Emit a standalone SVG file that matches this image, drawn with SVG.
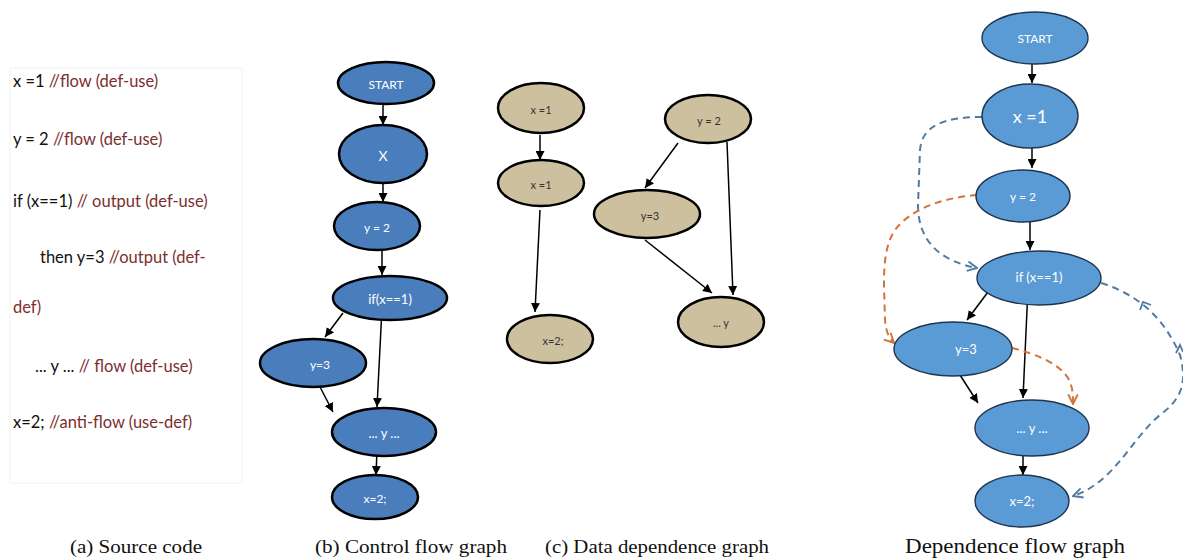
<svg xmlns="http://www.w3.org/2000/svg" width="1183" height="560" viewBox="0 0 1183 560">
<defs>
<style>
.code{font-family:Lato,"Liberation Sans",sans-serif;font-size:16.5px;fill:#111}
.cm{fill:#7d2e2e}
.cfg{fill:#4a7dbc;stroke:#000;stroke-width:2.5}
.ddg{fill:#ccc09f;stroke:#000;stroke-width:2.5}
.dfg{fill:#5b9bd5;stroke:#1e3550;stroke-width:1.4}
.wt{font-family:Lato,"Liberation Sans",sans-serif;fill:#fff;text-anchor:middle;dominant-baseline:central}
.dt{font-family:Lato,"Liberation Sans",sans-serif;fill:#333;font-size:11px;text-anchor:middle;dominant-baseline:central}
.e{fill:none;stroke:#000;stroke-width:1.5;marker-end:url(#ah)}
.bd{fill:none;stroke:#527ba3;stroke-width:2;stroke-dasharray:7 5}
.od{fill:none;stroke:#d2743a;stroke-width:2;stroke-dasharray:7 5}
.cap{font-family:"Liberation Serif",serif;fill:#111}
</style>
<marker id="ah" viewBox="0 0 10 10" refX="10" refY="5" markerWidth="9" markerHeight="9" markerUnits="userSpaceOnUse" orient="auto"><path d="M0,0 L10,5 L0,10 z" fill="#000"/></marker>
<marker id="cb" viewBox="0 0 10 10" refX="9" refY="5" markerWidth="12" markerHeight="12" markerUnits="userSpaceOnUse" orient="auto"><path d="M1,1 L9,5 L1,9" fill="none" stroke="#527ba3" stroke-width="1.6"/></marker>
<marker id="co" viewBox="0 0 10 10" refX="9" refY="5" markerWidth="12" markerHeight="12" markerUnits="userSpaceOnUse" orient="auto"><path d="M1,1 L9,5 L1,9" fill="none" stroke="#d2743a" stroke-width="1.6"/></marker>
</defs>
<rect width="1183" height="560" fill="#fff"/>

<g id="source-code">
<rect x="10" y="68" width="232" height="415" fill="#fff" stroke="#f2f2f2" stroke-width="1"/>
<text class="code" x="13" y="87">x =1 <tspan class="cm">//flow (def-use)</tspan></text>
<text class="code" x="13" y="145">y = 2 <tspan class="cm">//flow (def-use)</tspan></text>
<text class="code" x="13" y="207">if (x==1) <tspan class="cm">// output (def-use)</tspan></text>
<text class="code" x="40" y="263">then y=3 <tspan class="cm">//output (def-</tspan></text>
<text class="code cm" x="13" y="313">def)</text>
<text class="code" x="35" y="372">... y  ... <tspan class="cm">// flow (def-use)</tspan></text>
<text class="code" x="13" y="428">x=2; <tspan class="cm">//anti-flow (use-def)</tspan></text>
</g>

<g id="connectors">
<line class="e" x1="383" y1="100" x2="383" y2="125"/>
<line class="e" x1="383" y1="175" x2="383" y2="202"/>
<line class="e" x1="382" y1="250" x2="382" y2="275"/>
<line class="e" x1="343" y1="313" x2="325" y2="337"/>
<line class="e" x1="382" y1="308" x2="377" y2="407"/>
<line class="e" x1="320" y1="387" x2="333" y2="412"/>
<line class="e" x1="377" y1="450" x2="376" y2="475"/>
<line class="e" x1="540" y1="135" x2="540" y2="160"/>
<line class="e" x1="540" y1="210" x2="535" y2="312"/>
<line class="e" x1="678" y1="143" x2="645" y2="188"/>
<line class="e" x1="727" y1="142" x2="733" y2="295"/>
<line class="e" x1="645" y1="240" x2="712" y2="293"/>
<line class="e" x1="1032" y1="55" x2="1032" y2="83"/>
<line class="e" x1="1032" y1="138" x2="1032" y2="168"/>
<line class="e" x1="1030" y1="222" x2="1030" y2="250"/>
<line class="e" x1="988" y1="292" x2="967" y2="320"/>
<line class="e" x1="1028" y1="288" x2="1023" y2="398"/>
<line class="e" x1="960" y1="375" x2="978" y2="403"/>
<line class="e" x1="1023" y1="447" x2="1023" y2="475"/>
<path class="bd" d="M982,117 C945,117 922,125 920,150 L918,205 C918,245 945,262 977,268" marker-end="url(#cb)"/>
<path class="bd" d="M1101,283 C1140,295 1165,320 1180,355 C1188,385 1180,400 1160,415 C1130,440 1115,482 1073,496" marker-end="url(#cb)"/>
<polyline points="1140,310 1143,302 1151,305" fill="none" stroke="#527ba3" stroke-width="1.8"/>
<polyline points="1176,353 1180,345 1183,352" fill="none" stroke="#527ba3" stroke-width="1.8"/>
<path class="od" d="M977,195 C940,198 910,210 895,230 C885,245 884,265 884,285 L885,320 C886,332 889,338 894,343" marker-end="url(#co)"/>
<path class="od" d="M1012,348 C1040,355 1060,365 1068,378 C1073,387 1073,395 1073,404" marker-end="url(#co)"/>
</g>

<g id="cfg-start"><ellipse class="cfg" cx="386" cy="83" rx="48" ry="21"/><text class="wt" x="386" y="84" font-size="12">START</text></g>
<g id="cfg-x"><ellipse class="cfg" cx="383" cy="154" rx="44" ry="29"/><text class="wt" x="383" y="155" font-size="14">X</text></g>
<g id="cfg-y2"><ellipse class="cfg" cx="377" cy="226" rx="43" ry="24"/><text class="wt" x="377" y="227" font-size="12">y = 2</text></g>
<g id="cfg-if"><ellipse class="cfg" cx="390" cy="298" rx="57" ry="22"/><text class="wt" x="390" y="299" font-size="13">if(x==1)</text></g>
<g id="cfg-y3"><ellipse class="cfg" cx="313" cy="363" rx="53" ry="24"/><text class="wt" x="320" y="364" font-size="12">y=3</text></g>
<g id="cfg-usey"><ellipse class="cfg" cx="384" cy="432" rx="52" ry="24"/><text class="wt" x="384" y="433" font-size="13">... y  ...</text></g>
<g id="cfg-x2"><ellipse class="cfg" cx="375" cy="497" rx="43" ry="22"/><text class="wt" x="375" y="498" font-size="12">x=2;</text></g>

<g id="ddg-x1a"><ellipse class="ddg" cx="541" cy="108" rx="43" ry="25"/><text class="dt" x="541" y="109">x =1</text></g>
<g id="ddg-x1b"><ellipse class="ddg" cx="541" cy="183" rx="43" ry="23"/><text class="dt" x="541" y="184">x =1</text></g>
<g id="ddg-x2"><ellipse class="ddg" cx="550" cy="339" rx="43" ry="24"/><text class="dt" x="553" y="340">x=2;</text></g>
<g id="ddg-y2"><ellipse class="ddg" cx="708" cy="119" rx="43" ry="24"/><text class="dt" x="709" y="120">y = 2</text></g>
<g id="ddg-y3"><ellipse class="ddg" cx="647" cy="214" rx="53" ry="24"/><text class="dt" x="650" y="215">y=3</text></g>
<g id="ddg-usey"><ellipse class="ddg" cx="721" cy="322" rx="43" ry="25"/><text class="dt" x="721" y="322">... y</text></g>

<g id="dfg-start"><ellipse class="dfg" cx="1035" cy="38" rx="53" ry="26"/><text class="wt" x="1035" y="38" font-size="12">START</text></g>
<g id="dfg-x1"><ellipse class="dfg" cx="1030" cy="116" rx="48" ry="32"/><text class="wt" x="1030" y="116" font-size="18">x =1</text></g>
<g id="dfg-y2"><ellipse class="dfg" cx="1023" cy="196" rx="47" ry="26"/><text class="wt" x="1023" y="196" font-size="12">y = 2</text></g>
<g id="dfg-if"><ellipse class="dfg" cx="1039" cy="278" rx="62" ry="27"/><text class="wt" x="1039" y="277" font-size="13">if (x==1)</text></g>
<g id="dfg-y3"><ellipse class="dfg" cx="953" cy="349" rx="59" ry="27"/><text class="wt" x="966" y="349" font-size="13">y=3</text></g>
<g id="dfg-usey"><ellipse class="dfg" cx="1032" cy="428" rx="57" ry="28"/><text class="wt" x="1032" y="428" font-size="13">... y  ...</text></g>
<g id="dfg-x2"><ellipse class="dfg" cx="1022" cy="501" rx="47" ry="26"/><text class="wt" x="1022" y="501" font-size="13">x=2;</text></g>

<g id="captions">
<text class="cap" x="70" y="553" font-size="19" textLength="132" lengthAdjust="spacingAndGlyphs">(a) Source code</text>
<text class="cap" x="315" y="553" font-size="19" textLength="192" lengthAdjust="spacingAndGlyphs">(b) Control flow graph</text>
<text class="cap" x="545" y="553" font-size="19" textLength="224" lengthAdjust="spacingAndGlyphs">(c) Data dependence graph</text>
<text class="cap" x="905" y="553" font-size="21" textLength="220" lengthAdjust="spacingAndGlyphs">Dependence flow graph</text>
</g>
</svg>
